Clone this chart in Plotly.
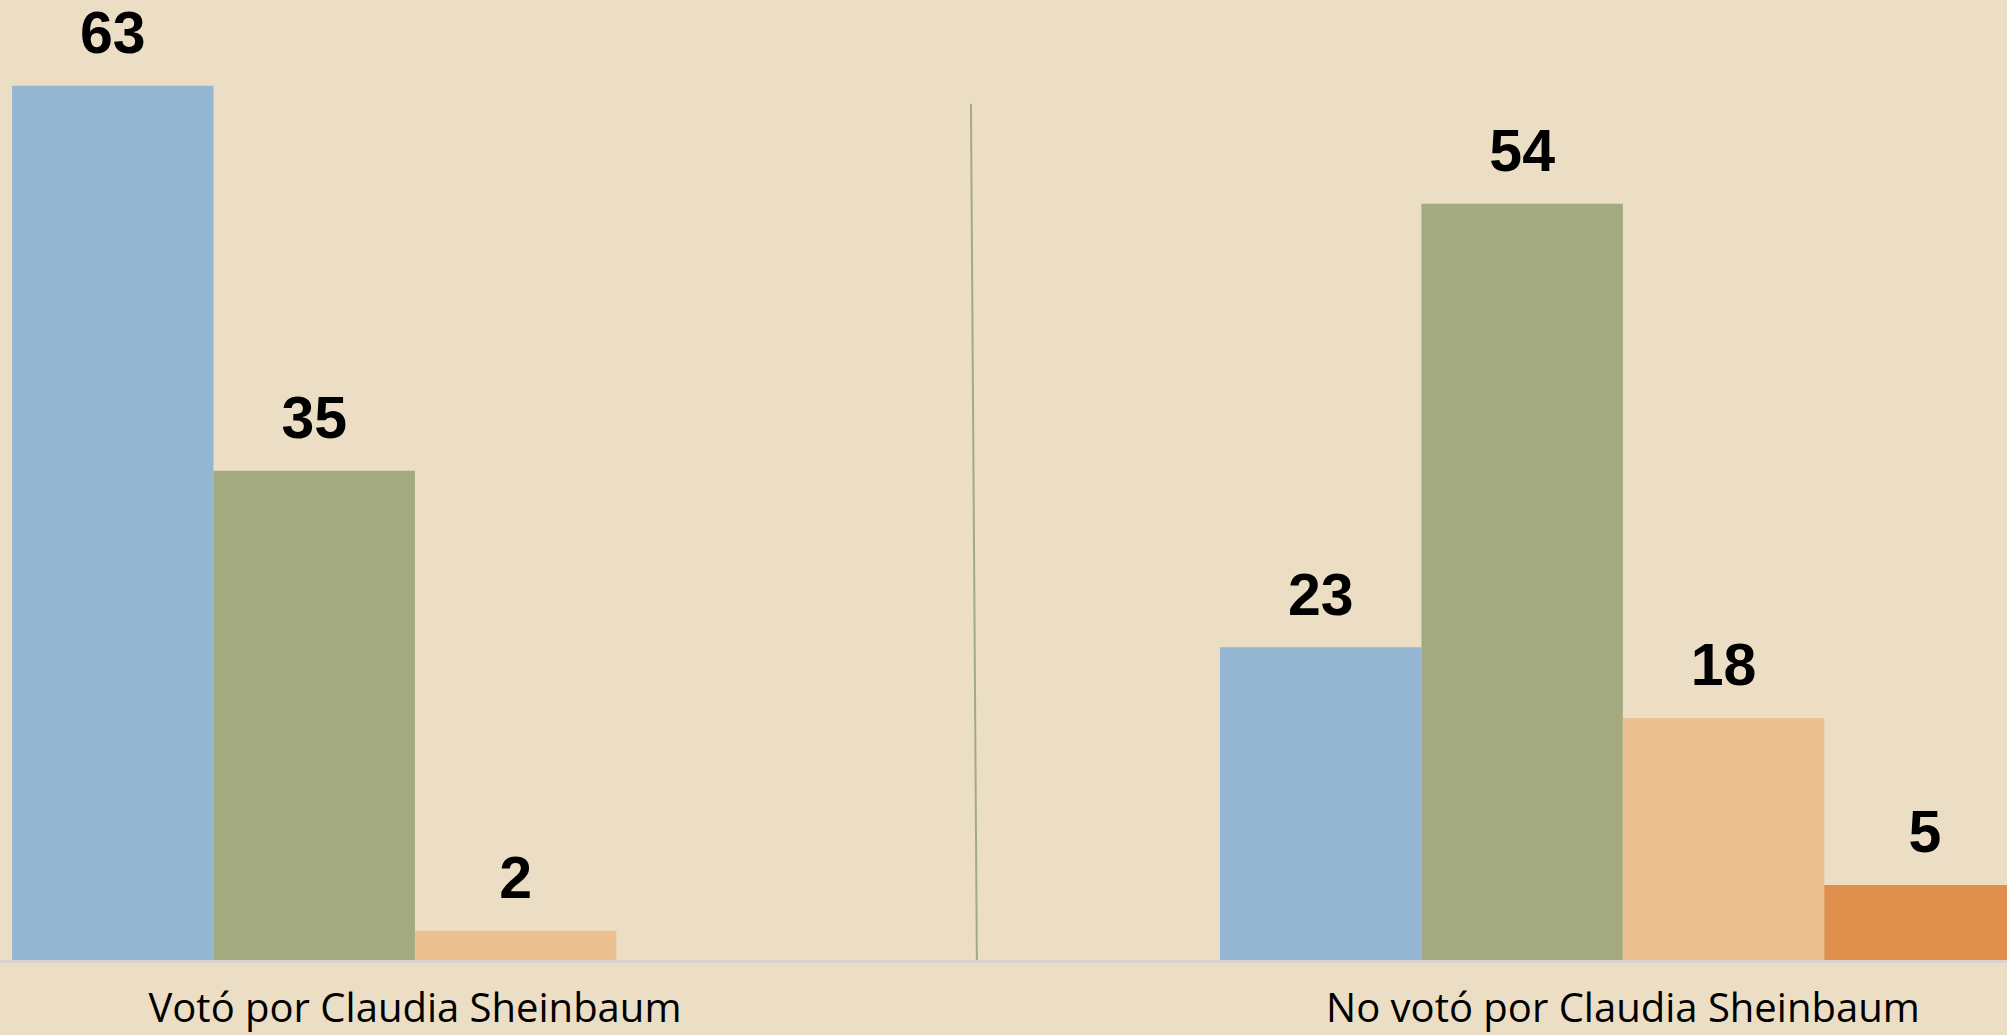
import plotly.graph_objects as go

categories = ["Votó por Claudia Sheinbaum", "No votó por Claudia Sheinbaum"]
series_names = ["Serie 1", "Serie 2", "Serie 3", "Serie 4"]
# bar heights
values_s1 = [62.9, 22.5]
values_s2 = [35.2, 54.4]
values_s3 = [2.1, 17.4]
values_s4 = [0, 5.4]
# printed labels
labels_s1 = ["63", "23"]
labels_s2 = ["35", "54"]
labels_s3 = ["2", "18"]
labels_s4 = ["", "5"]
colors = ["#95B6D3", "#A4AA7F", "#EBC191", "#E08E4B"]

BG = "#ECDEC4"
all_values = [values_s1, values_s2, values_s3, values_s4]
all_labels = [labels_s1, labels_s2, labels_s3, labels_s4]

fig = go.Figure()
for name, vals, col in zip(series_names, all_values, colors):
    fig.add_trace(go.Bar(x=categories, y=vals, name=name,
                         marker=dict(color=col, line=dict(width=0)),
                         hoverinfo="skip"))
for name, vals, labs in zip(series_names, all_values, all_labels):
    fig.add_trace(go.Scatter(x=categories, y=vals, text=labs, name=name,
                             mode="markers+text", textposition="top center",
                             marker=dict(size=27, opacity=0),
                             textfont=dict(family="Liberation Sans", size=59, color="#000000"),
                             texttemplate="<b>%{text}</b>",
                             cliponaxis=False, showlegend=False, hoverinfo="skip"))

# divider line
fig.add_shape(type="line", xref="x", yref="y", x0=0.4603, y0=61.6, x1=0.4652, y1=0,
              line=dict(color="#A4AA7F", width=2), layer="above")

fig.update_layout(
    width=2007, height=1035,
    margin=dict(l=0, r=0, t=0, b=75, autoexpand=False),
    paper_bgcolor=BG, plot_bgcolor=BG,
    barmode="group", bargap=0.333, bargroupgap=0,
    scattermode="group", scattergap=0.333,
    showlegend=False,
    xaxis=dict(range=[-0.3435, 1.318], showgrid=False, zeroline=False,
               showline=True, linecolor="#D8D4CC", linewidth=3,
               ticks="", ticklabelstandoff=11, automargin=False,
               tickfont=dict(family="Open Sans", size=40, color="#000000")),
    yaxis=dict(range=[0, 69.06], showgrid=False, zeroline=False, showticklabels=False,
               showline=False, automargin=False),
)

fig.write_html("out.html",
               config={"displayModeBar": False},
               post_script="document.body.style.margin='0';document.body.style.overflow='hidden';document.body.style.background='" + BG + "';")
